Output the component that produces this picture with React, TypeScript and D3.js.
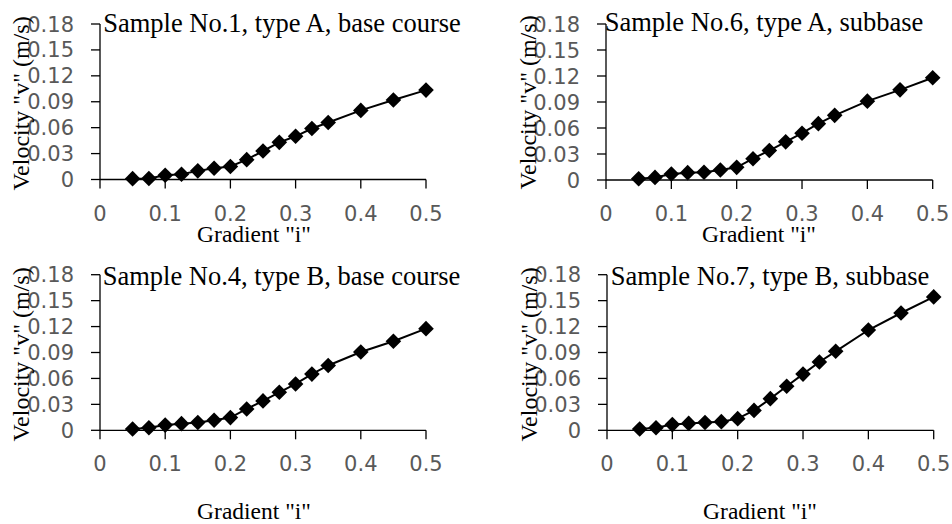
import React from "react";
import * as d3 from "d3";

const gradients = [0.05, 0.075, 0.1, 0.125, 0.15, 0.175, 0.2, 0.225, 0.25, 0.275, 0.3, 0.325, 0.35, 0.4, 0.45, 0.5];

const sample1 = [0.001, 0.0012, 0.005, 0.006, 0.010, 0.013, 0.015, 0.023, 0.033, 0.043, 0.050, 0.059, 0.066, 0.080, 0.092, 0.1035];
const sample6 = [0.0015, 0.003, 0.007, 0.0085, 0.009, 0.0115, 0.0146, 0.0246, 0.034, 0.044, 0.054, 0.065, 0.0746, 0.091, 0.104, 0.118];
const sample4 = [0.0015, 0.003, 0.006, 0.0077, 0.009, 0.0116, 0.0147, 0.0247, 0.034, 0.044, 0.0536, 0.065, 0.075, 0.0906, 0.103, 0.1176];
const sample7 = [0.0015, 0.003, 0.0066, 0.008, 0.009, 0.010, 0.0135, 0.023, 0.0366, 0.051, 0.065, 0.079, 0.0914, 0.116, 0.1357, 0.1543];

const titles = [
  "Sample No.1, type A, base course",
  "Sample No.6, type A, subbase",
  "Sample No.4, type B, base course",
  "Sample No.7, type B, subbase",
];

const xTicks = [0, 0.1, 0.2, 0.3, 0.4, 0.5];
const yTicks = [0, 0.03, 0.06, 0.09, 0.12, 0.15, 0.18];

const xLabel = 'Gradient "i"';
const yLabel = 'Velocity "v" (m/s)';

interface PanelCfg {
  values: number[];
  title: string;
  x0: number;
  x1: number;
  yTop: number;
  yBot: number;
  titleX: number;
  titleY: number;
  yLabX: number;
  yLabY: number;
  xLabY: number;
  xLabX: number;
}

const panels: PanelCfg[] = [
  { values: sample1, title: titles[0], x0: 100, x1: 426, yTop: 24, yBot: 179.5, titleX: 282, titleY: 31.5, yLabX: 29, yLabY: 103.5, xLabY: 241.5, xLabX: 254 },
  { values: sample6, title: titles[1], x0: 606, x1: 932.7, yTop: 24, yBot: 180, titleX: 764, titleY: 31, yLabX: 536, yLabY: 102.5, xLabY: 241.5, xLabX: 759 },
  { values: sample4, title: titles[2], x0: 100, x1: 426, yTop: 274.7, yBot: 430.3, titleX: 281.5, titleY: 284.7, yLabX: 29, yLabY: 354.5, xLabY: 519, xLabX: 254 },
  { values: sample7, title: titles[3], x0: 607, x1: 933.7, yTop: 274.7, yBot: 430.3, titleX: 770, titleY: 284.7, yLabX: 537, yLabY: 354.5, xLabY: 519, xLabX: 760 },
];

const fmt = (v: number) => (v === 0 ? "0" : String(+v.toFixed(2)));

function Panel({ cfg }: { cfg: PanelCfg }) {
  const x = d3.scaleLinear().domain([0, 0.5]).range([cfg.x0, cfg.x1]);
  const y = d3.scaleLinear().domain([0, 0.18]).range([cfg.yBot, cfg.yTop]);
  const pts: [number, number][] = gradients.map((g, i) => [x(g), y(cfg.values[i])]);
  const line = d3.line()(pts) || "";
  const r = 7.8;
  const diamond = `M0,${-r}L${r},0L0,${r}L${-r},0Z`;
  const tickFont = "DejaVu Sans, sans-serif";
  const serif = "Liberation Serif, Times New Roman, serif";
  return (
    <g>
      <line x1={cfg.x0} x2={cfg.x0} y1={cfg.yTop} y2={cfg.yBot} stroke="#000" strokeWidth={1.3} />
      <line x1={cfg.x0} x2={cfg.x1} y1={cfg.yBot} y2={cfg.yBot} stroke="#000" strokeWidth={1.3} />
      {yTicks.map((t) => (
        <g key={"y" + t}>
          <line x1={cfg.x0 - 9} x2={cfg.x0} y1={y(t)} y2={y(t)} stroke="#000" strokeWidth={1.3} />
          <text x={cfg.x0 - 26} y={y(t)} dy="0.36em" textAnchor="end" fontFamily={tickFont} fontSize={21} fill="#595959">
            {fmt(t)}
          </text>
        </g>
      ))}
      {xTicks.map((t) => (
        <g key={"x" + t}>
          <line x1={x(t)} x2={x(t)} y1={cfg.yBot} y2={cfg.yBot + 9} stroke="#000" strokeWidth={1.3} />
          <text x={x(t)} y={cfg.yBot + 41} textAnchor="middle" fontFamily={tickFont} fontSize={21} fill="#595959">
            {fmt(t)}
          </text>
        </g>
      ))}
      <path d={line} fill="none" stroke="#000" strokeWidth={2} />
      {pts.map((p, i) => (
        <path key={i} d={diamond} transform={`translate(${p[0]},${p[1]})`} fill="#000" />
      ))}
      <text x={cfg.titleX} y={cfg.titleY} textAnchor="middle" fontFamily={serif} fontSize={26.5} fill="#000">
        {cfg.title}
      </text>
      <text x={cfg.xLabX} y={cfg.xLabY} textAnchor="middle" fontFamily={serif} fontSize={23.5} fill="#000">
        {xLabel}
      </text>
      <text
        transform={`translate(${cfg.yLabX},${cfg.yLabY}) rotate(-90)`}
        textAnchor="middle"
        fontFamily={serif}
        fontSize={24}
        fill="#000"
      >
        {yLabel}
      </text>
    </g>
  );
}

export default function App() {
  return (
    <svg
      width={952}
      height={524}
      style={{ position: "absolute", left: 0, top: 0, background: "#fff" }}
    >
      <rect width={952} height={524} fill="#fff" />
      {panels.map((p, i) => (
        <Panel key={i} cfg={p} />
      ))}
    </svg>
  );
}
